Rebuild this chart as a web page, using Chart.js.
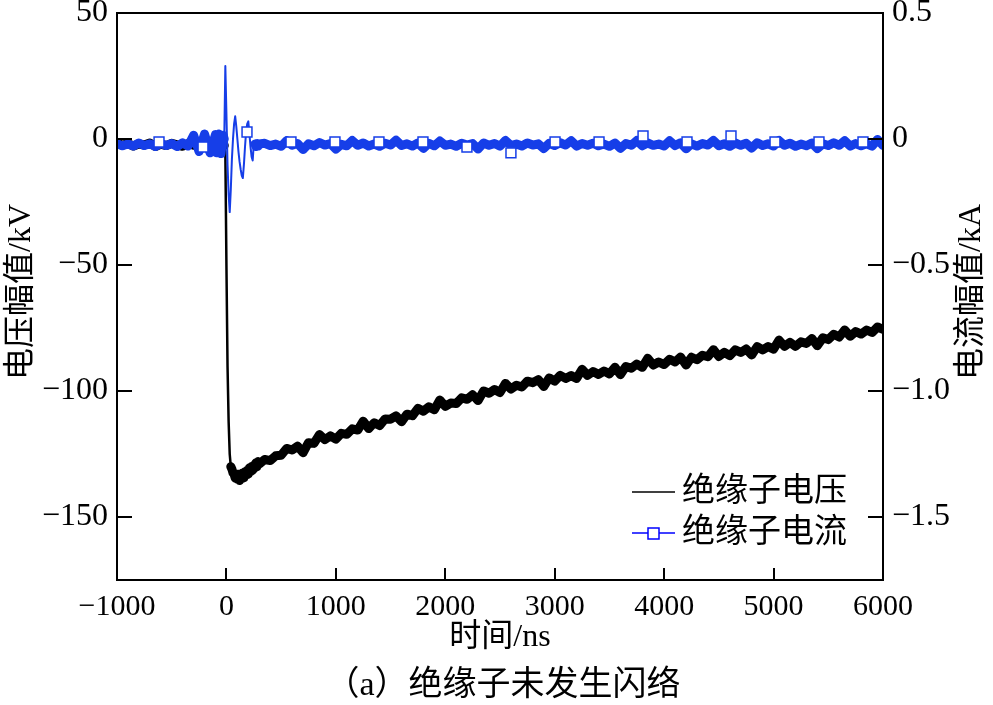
<!DOCTYPE html>
<html>
<head>
<meta charset="utf-8">
<script src="https://cdn.jsdelivr.net/npm/chart.js@4.4.0/dist/chart.umd.min.js"></script>
<style>
  html, body { margin: 0; padding: 0; background: #fff; }
  canvas { display: block; }
</style>
</head>
<body>
<canvas id="chart" width="993" height="705"></canvas>
<script>
// sample times in ns (coarse before the pulse, 10 ns around it, coarse after)
const times = [
  -1000, -950, -900, -850, -800, -750, -700, -650, -600, -550,
  -500, -450, -400, -350, -300, -250, -200, -150, -100,
  -90, -80, -70, -60, -50, -40, -30, -20, -10, 0,
  10, 20, 30, 40, 50, 60, 70, 80, 90, 100,
  110, 120, 130, 140, 150, 160, 170, 180, 190, 200,
  210, 220, 230, 240, 250, 260, 270, 280, 290, 300,
  350, 400, 450, 500, 550, 600, 650, 700, 750, 800,
  850, 900, 950, 1000, 1050, 1100, 1150, 1200, 1250, 1300,
  1350, 1400, 1450, 1500, 1550, 1600, 1650, 1700, 1750, 1800,
  1850, 1900, 1950, 2000, 2050, 2100, 2150, 2200, 2250, 2300,
  2350, 2400, 2450, 2500, 2550, 2600, 2650, 2700, 2750, 2800,
  2850, 2900, 2950, 3000, 3050, 3100, 3150, 3200, 3250, 3300,
  3350, 3400, 3450, 3500, 3550, 3600, 3650, 3700, 3750, 3800,
  3850, 3900, 3950, 4000, 4050, 4100, 4150, 4200, 4250, 4300,
  4350, 4400, 4450, 4500, 4550, 4600, 4650, 4700, 4750, 4800,
  4850, 4900, 4950, 5000, 5050, 5100, 5150, 5200, 5250, 5300,
  5350, 5400, 5450, 5500, 5550, 5600, 5650, 5700, 5750, 5800,
  5850, 5900, 5950, 6000
];

// insulator voltage, kV
const voltage = [
  -1.5, -2.5, -1.8, -2.8, -2.0, -2.4, -1.6, -3.0, -2.0, -2.6,
  -1.7, -2.3, -2.9, -1.8, -2.5, -1.6, -3.0, -2.0, -2.4,
  -1.8, -2.6, -2.0, -2.8, -1.9, -2.5, -1.7, -2.6, -5, -50,
  -90, -112, -125, -130, -131, -132.5, -133, -134.5, -133, -135,
  -133, -135.5, -133, -134.5, -132.5, -134.5, -132, -133.5, -131.5, -133,
  -130.5, -132, -130, -131.5, -129.5, -130.5, -128.5, -130, -128, -129,
  -127.2, -127.6, -125.7, -125.5, -122.8, -123.4, -121.9, -124.5, -120.5, -120.8,
  -117.3, -119.3, -117.8, -119.1, -116.8, -117.2, -115, -115.5, -112, -114.9,
  -112.6, -113.7, -111.1, -111.2, -109.9, -112.2, -109.2, -109.8, -106.9, -108,
  -106.3, -107.4, -103.6, -106.1, -104.8, -105, -102.7, -103.3, -101.5, -103.8,
  -100, -100.9, -99.4, -100.6, -97, -99.2, -97.7, -98.4, -96.1, -96.7,
  -95.5, -98.2, -94.8, -96.1, -93.8, -95, -93.9, -95, -91.4, -93.8,
  -92.3, -93.4, -92.1, -93.2, -90.6, -93.5, -90.3, -91, -89.3, -90.6,
  -87, -89.7, -88.5, -89.5, -87.4, -88.5, -86.5, -89.7, -86.6, -87.6,
  -85.8, -86.4, -83.6, -86.3, -84.7, -86, -83.7, -84.7, -83.3, -85.7,
  -82.4, -83.7, -82.4, -83.4, -79.8, -82.3, -80.7, -82.3, -80.5, -81.1,
  -79.2, -82, -78.9, -79.6, -77.5, -78.6, -75.8, -78.3, -76.4, -77.4,
  -75.8, -76.8, -74.6, -75.5
];

// insulator current, kA
const current = [
  -0.018, -0.027, -0.020, -0.028, -0.016, -0.026, -0.019, -0.03, -0.017, -0.026,
  -0.018, -0.03, -0.015, -0.028, 0.015, -0.05, 0.02, -0.055, 0.018,
  -0.055, -0.02, 0.02, -0.02, -0.058, -0.02, 0.015, 0.0, 0.29, 0.1,
  -0.1, -0.22, -0.29, -0.2, -0.08, 0.0, 0.06, 0.09, 0.05, 0.0,
  -0.05, -0.09, -0.12, -0.145, -0.155, -0.1, -0.03, 0.03, 0.06, 0.07,
  0.02, -0.03, -0.07, -0.085, -0.02, -0.02, -0.03, -0.018, -0.028, -0.02,
  -0.017, -0.026, -0.020, -0.029, -0.007, -0.025, -0.018, -0.042, -0.019, -0.027,
  -0.014, -0.024, -0.018, -0.040, -0.021, -0.027, -0.006, -0.025, -0.016, -0.028,
  -0.020, -0.029, -0.017, -0.024, -0.005, -0.026, -0.019, -0.028, -0.016, -0.037,
  -0.017, -0.027, -0.008, -0.025, -0.020, -0.029, -0.017, -0.024, -0.018, -0.040,
  -0.016, -0.025, -0.018, -0.028, -0.006, -0.026, -0.020, -0.028, -0.016, -0.024,
  -0.019, -0.038, -0.017, -0.026, -0.015, -0.024, -0.007, -0.028, -0.018, -0.025,
  -0.017, -0.027, -0.020, -0.029, -0.016, -0.037, -0.018, -0.025, -0.006, -0.027,
  -0.016, -0.025, -0.020, -0.028, -0.007, -0.026, -0.015, -0.039, -0.019, -0.028,
  -0.018, -0.024, -0.006, -0.027, -0.019, -0.029, -0.016, -0.025, -0.017, -0.036,
  -0.015, -0.026, -0.019, -0.028, -0.006, -0.025, -0.017, -0.029, -0.020, -0.027,
  -0.016, -0.038, -0.019, -0.026, -0.015, -0.025, -0.007, -0.028, -0.018, -0.027,
  -0.019, -0.028, -0.002, -0.026
];

// square markers on the current trace
const markerTimes = [-616, -214, 188, 590, 992, 1394, 1796, 2198, 2600, 3003, 3405, 3807, 4209, 4611, 5013, 5415, 5817];
const markerCurrent = [-0.012, -0.032, 0.028, -0.012, -0.012, -0.012, -0.012, -0.032, -0.055, -0.012, -0.012, 0.012, -0.012, 0.012, -0.012, -0.012, -0.012];

const xTicks = [-1000, 0, 1000, 2000, 3000, 4000, 5000, 6000];
const xTickLabels = ['−1000', '0', '1000', '2000', '3000', '4000', '5000', '6000'];
const leftTicks = [-150, -100, -50, 0, 50];
const leftTickLabels = ['−150', '−100', '−50', '0', '50'];
const rightTicks = [-1.5, -1.0, -0.5, 0, 0.5];
const rightTickLabels = ['−1.5', '−1.0', '−0.5', '0', '0.5'];

const seriesNames = ['绝缘子电压', '绝缘子电流'];
const leftTitle = '电压幅值/kV';
const rightTitle = '电流幅值/kA';
const xTitle = '时间/ns';
const caption = '（a）绝缘子未发生闪络';

const FONT = '"Liberation Serif", "Noto Sans CJK SC", serif';
const BLUE = 'rgb(22, 62, 232)';

function toPoints(xs, ys) {
  return xs.map((x, i) => ({ x: x, y: ys[i] }));
}

function setTicks(values) {
  return function (scale) {
    scale.ticks = values.map(v => ({ value: v }));
  };
}

function labelFrom(values, labels) {
  return function (value) {
    const i = values.findIndex(v => Math.abs(v - value) < 1e-9);
    return i < 0 ? '' : labels[i];
  };
}

// thin stroke through the fast transient, thick noisy band elsewhere
function bandWidth(from, to, thin, thick) {
  return function (ctx) {
    const t = ctx.p0.parsed.x;
    return (t >= from && t < to) ? thin : thick;
  };
}

// frame, inward ticks, legend and titles
const decorPlugin = {
  id: 'decor',
  afterDatasetsDraw(chart) {
    const ctx = chart.ctx;
    const a = chart.chartArea;
    const s = chart.scales;
    ctx.save();
    ctx.strokeStyle = '#000';
    ctx.lineWidth = 2;
    ctx.strokeRect(a.left, a.top, a.right - a.left, a.bottom - a.top);

    ctx.beginPath();
    xTicks.forEach(v => {
      const px = Math.round(s.x.getPixelForValue(v));
      ctx.moveTo(px, a.bottom);
      ctx.lineTo(px, a.bottom - 12);
    });
    leftTicks.forEach(v => {
      const py = Math.round(s.y.getPixelForValue(v));
      ctx.moveTo(a.left, py);
      ctx.lineTo(a.left + 15, py);
    });
    rightTicks.forEach(v => {
      const py = Math.round(s.y2.getPixelForValue(v));
      ctx.moveTo(a.right, py);
      ctx.lineTo(a.right - 15, py);
    });
    ctx.stroke();

    // legend inside the plot, lower right
    const lx = a.right - 251;
    const ly = [a.top + 479, a.top + 520];
    ctx.font = '33px ' + FONT;
    ctx.fillStyle = '#000';
    ctx.textAlign = 'left';
    ctx.textBaseline = 'middle';

    ctx.lineWidth = 1.5;
    ctx.strokeStyle = '#000';
    ctx.beginPath();
    ctx.moveTo(lx, ly[0]);
    ctx.lineTo(lx + 43, ly[0]);
    ctx.stroke();
    ctx.fillText(seriesNames[0], lx + 50, ly[0]);

    ctx.strokeStyle = 'rgb(0, 0, 255)';
    ctx.beginPath();
    ctx.moveTo(lx, ly[1]);
    ctx.lineTo(lx + 43, ly[1]);
    ctx.stroke();
    ctx.fillStyle = '#fff';
    ctx.fillRect(lx + 16, ly[1] - 5, 11, 11);
    ctx.strokeRect(lx + 16, ly[1] - 5, 11, 11);
    ctx.fillStyle = '#000';
    ctx.fillText(seriesNames[1], lx + 50, ly[1]);

    // axis titles and caption
    ctx.textAlign = 'center';
    ctx.font = '32px ' + FONT;
    ctx.save();
    ctx.translate(22, 292);
    ctx.rotate(-Math.PI / 2);
    ctx.fillText(leftTitle, 0, 0);
    ctx.restore();
    ctx.save();
    ctx.translate(972, 292);
    ctx.rotate(-Math.PI / 2);
    ctx.fillText(rightTitle, 0, 0);
    ctx.restore();
    ctx.fillText(xTitle, 500, 638);
    ctx.font = '34px ' + FONT;
    ctx.fillText(caption, 503, 686);
    ctx.restore();
  }
};

const config = {
  type: 'line',
  data: {
    datasets: [
      {
        label: seriesNames[1],
        data: toPoints(markerTimes, markerCurrent),
        yAxisID: 'y2',
        showLine: false,
        pointStyle: 'rect',
        pointRadius: 7,
        pointBackgroundColor: '#fff',
        pointBorderColor: BLUE,
        pointBorderWidth: 1.5,
        order: 1
      },
      {
        label: seriesNames[1],
        data: toPoints(times, current),
        yAxisID: 'y2',
        borderColor: BLUE,
        borderWidth: 9,
        borderJoinStyle: 'round',
        borderCapStyle: 'round',
        segment: { borderWidth: bandWidth(-20, 260, 2, 9) },
        pointRadius: 0,
        order: 2
      },
      {
        label: seriesNames[0],
        data: toPoints(times, voltage),
        yAxisID: 'y',
        borderColor: '#000',
        borderWidth: 9,
        borderJoinStyle: 'round',
        borderCapStyle: 'round',
        segment: { borderWidth: bandWidth(-20, 40, 2.5, 9) },
        pointRadius: 0,
        order: 3
      }
    ]
  },
  options: {
    responsive: false,
    animation: false,
    events: [],
    layout: { padding: { top: 13, left: 0, right: 0, bottom: 0 } },
    plugins: {
      legend: { display: false },
      tooltip: { enabled: false }
    },
    scales: {
      x: {
        type: 'linear',
        min: -1000,
        max: 6000,
        afterBuildTicks: setTicks(xTicks),
        afterFit: function (scale) { scale.height = 125; },
        grid: { display: false, drawTicks: false },
        border: { display: false },
        ticks: {
          callback: labelFrom(xTicks, xTickLabels),
          color: '#000',
          padding: 12,
          maxRotation: 0,
          font: { family: FONT, size: 30, lineHeight: 1 }
        }
      },
      y: {
        type: 'linear',
        position: 'left',
        min: -175,
        max: 50,
        afterBuildTicks: setTicks(leftTicks),
        afterFit: function (scale) { scale.width = 117; },
        grid: { display: false, drawTicks: false },
        border: { display: false },
        ticks: {
          callback: labelFrom(leftTicks, leftTickLabels),
          color: '#000',
          padding: 9,
          font: { family: FONT, size: 32, lineHeight: 0.05 }
        }
      },
      y2: {
        type: 'linear',
        position: 'right',
        min: -1.75,
        max: 0.5,
        afterBuildTicks: setTicks(rightTicks),
        afterFit: function (scale) { scale.width = 110; },
        grid: { display: false, drawTicks: false },
        border: { display: false },
        ticks: {
          callback: labelFrom(rightTicks, rightTickLabels),
          color: '#000',
          padding: 9,
          font: { family: FONT, size: 32, lineHeight: 0.05 }
        }
      }
    }
  },
  plugins: [decorPlugin]
};

const myChart = new Chart(document.getElementById('chart').getContext('2d'), config);
</script>
</body>
</html>
